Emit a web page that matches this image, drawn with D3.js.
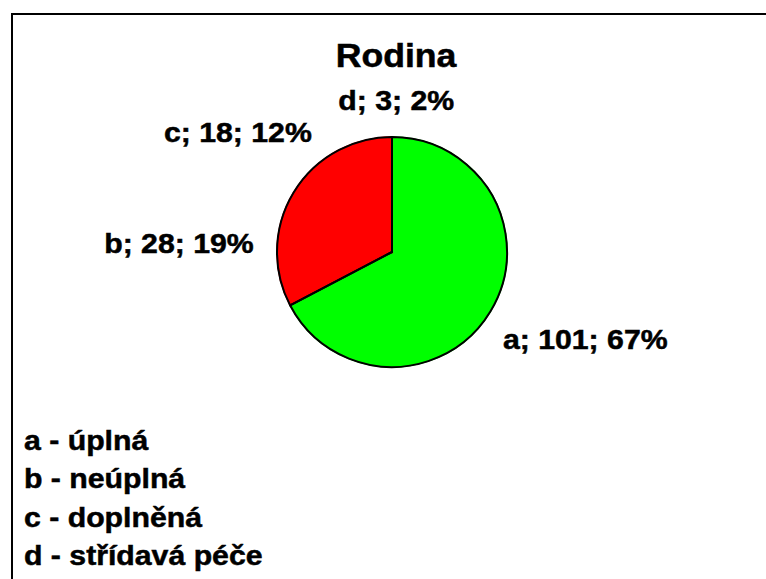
<!DOCTYPE html>
<html>
<head>
<meta charset="utf-8">
<script src="https://cdn.jsdelivr.net/npm/d3@7"></script>
<style>
  html, body { margin: 0; padding: 0; background: #fff; }
  svg { display: block; }
  text { font-family: "Liberation Sans", Arial, sans-serif; font-weight: bold; fill: #000; stroke: #000; stroke-width: 0.5px; }
</style>
</head>
<body>
<script>
// ---- data ----
const title = "Rodina";
const categories = ["a", "b", "c", "d"];
const values = [101, 28, 18, 3];
const percents = ["67%", "19%", "12%", "2%"];
const legendLabels = ["a - úplná", "b - neúplná", "c - doplněná", "d - střídavá péče"];
const sliceColors = ["#00ff00", "#ff0000", "#ff0000", "#ff0000"];
// groups sharing an outline (b, c, d drawn as one red region)
const outlineGroups = [[0], [1, 2, 3]];

// ---- layout ----
const W = 766, H = 579;
const cx = 392, cy = 252, R = 115;
const sx = 1.08; // horizontal stretch of the glyphs
const labelNudge = [[4, 12], [-14, 4], [-20, 0], [12, -17]];

const svg = d3.select("body").append("svg").attr("width", W).attr("height", H);

svg.append("rect")
  .attr("x", 12).attr("y", 14).attr("width", W + 20).attr("height", H + 20)
  .attr("fill", "#fff").attr("stroke", "#000").attr("stroke-width", 2);

function stretchedText(g, x, y, str, size, anchor) {
  return g.append("text")
    .attr("transform", `translate(${x},${y}) scale(${sx},1)`)
    .attr("font-size", size)
    .attr("text-anchor", anchor)
    .text(str);
}

stretchedText(svg, 396, 67, title, 33, "middle");

const pie = d3.pie().sort(null).value(d => d);
const arcs = pie(values);
const arc = d3.arc().innerRadius(0).outerRadius(R);

const g = svg.append("g").attr("transform", `translate(${cx},${cy})`);

g.selectAll("path.slice").data(arcs).enter().append("path")
  .attr("class", "slice")
  .attr("d", arc)
  .attr("fill", (d, i) => sliceColors[i])
  .attr("stroke", (d, i) => sliceColors[i])
  .attr("stroke-width", 1.5);

g.selectAll("path.outline").data(outlineGroups).enter().append("path")
  .attr("class", "outline")
  .attr("d", grp => arc({
    startAngle: arcs[grp[0]].startAngle,
    endAngle: arcs[grp[grp.length - 1]].endAngle
  }))
  .attr("fill", "none")
  .attr("stroke", "#000")
  .attr("stroke-width", 2)
  .attr("stroke-linejoin", "round");

// data labels
const labelArc = d3.arc().innerRadius(R + 10).outerRadius(R + 10);
arcs.forEach((d, i) => {
  const [px, py] = labelArc.centroid(d);
  const mid = (d.startAngle + d.endAngle) / 2;
  const s = Math.sin(mid), c = -Math.cos(mid);
  let anchor = Math.abs(s) < 0.2 ? "middle" : (s > 0 ? "start" : "end");
  let dy = c > 0.3 ? 20 : (c < -0.3 ? 0 : 10);
  const x = cx + px + labelNudge[i][0];
  const y = cy + py + dy + labelNudge[i][1];
  stretchedText(svg, x, y, `${categories[i]}; ${values[i]}; ${percents[i]}`, 28, anchor);
});

// legend text
legendLabels.forEach((t, i) => {
  stretchedText(svg, 24, 450 + i * 38.3, t, 28, "start");
});
</script>
</body>
</html>
